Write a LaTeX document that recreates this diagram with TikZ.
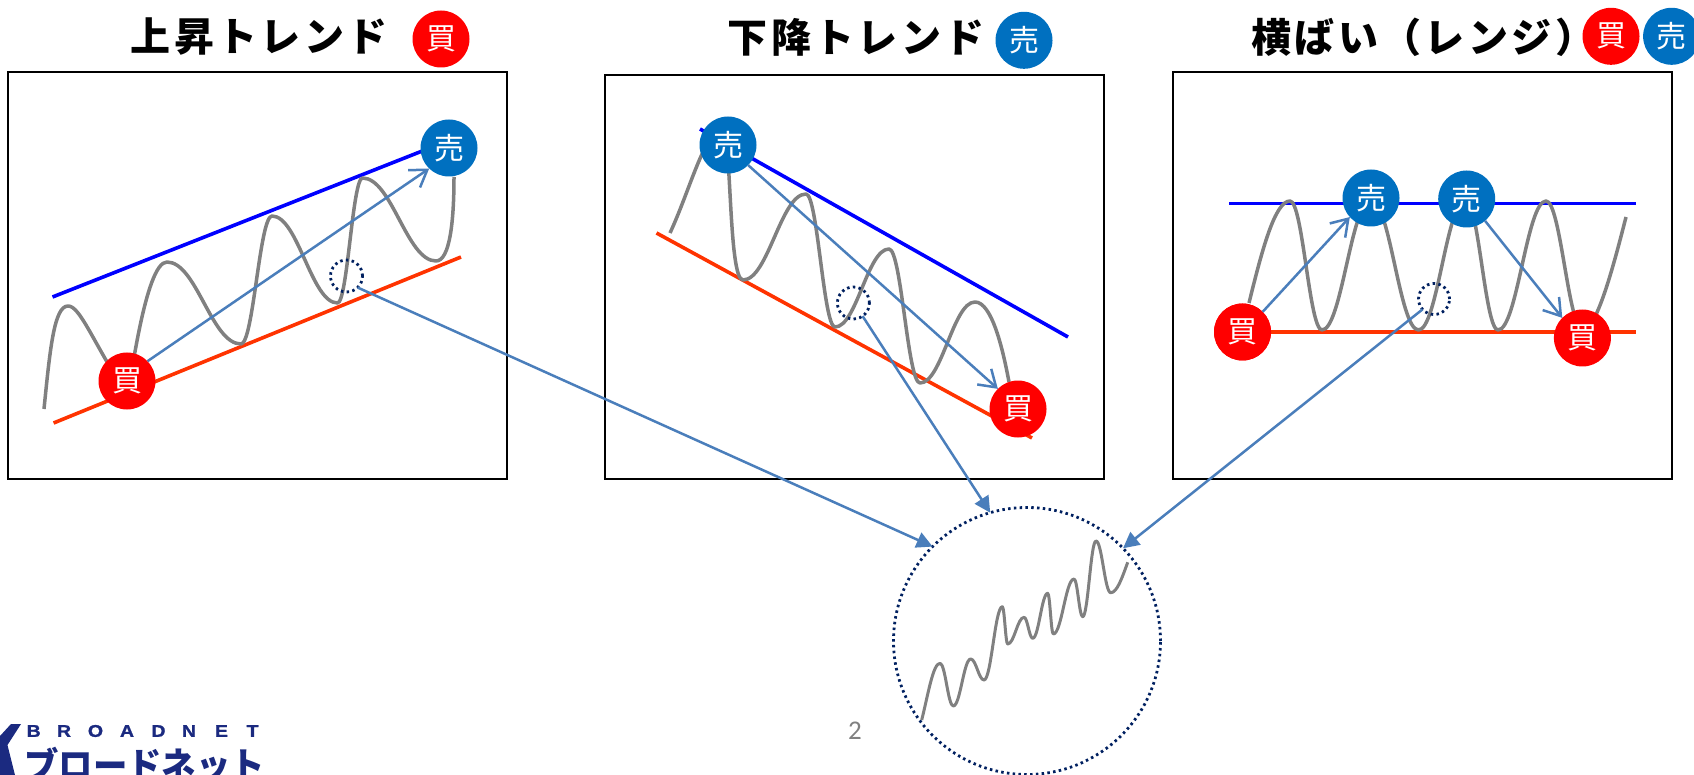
\documentclass[tikz,border=0pt]{standalone}
\usepackage{fontspec}
\usetikzlibrary{arrows.meta}
\newfontfamily\jpfont{Noto Sans CJK JP}
\newfontfamily\pagefont{Carlito}
\newfontfamily\logofont[FakeStretch=1.15,FakeBold=1.2]{Liberation Sans}
\definecolor{sellblue}{HTML}{0070C0}
\definecolor{buyred}{HTML}{FF0000}
\definecolor{lineorange}{HTML}{FF3300}
\definecolor{linkblue}{HTML}{4A7EBB}
\definecolor{dotnavy}{HTML}{002060}
\definecolor{curvegray}{HTML}{808080}
\definecolor{logonavy}{HTML}{1B2A80}
\newcommand\wavepts[3]{foreach \wx/\wy [remember=\wx as \wlx (initially #1), remember=\wy as \wly (initially #2)] in {#3} { .. controls ({\wlx+.4*(\wx-\wlx)},\wly) and ({\wx-.4*(\wx-\wlx)},\wy) .. (\wx,\wy) }}
\tikzset{
  panel/.style={draw=black,line width=2pt,fill=white},
  mark base/.style={circle,inner sep=0pt,outer sep=0pt,minimum size=57pt,text=white,font=\jpfont\fontsize{30}{30}\selectfont},
  sellmark/.style={mark base,fill=sellblue},
  buymark/.style={mark base,fill=buyred},
  titletext/.style={font=\jpfont\bfseries\fontsize{40}{40}\selectfont\addfontfeature{LetterSpace=8.5},text=black,inner sep=0pt,anchor=west},
  resist/.style={draw=blue,line width=3.6pt},
  support/.style={draw=lineorange,line width=3.6pt},
  curve/.style={draw=curvegray,line width=3.5pt,line join=round},
  thin curve/.style={draw=curvegray,line width=3pt,line join=round},
  trade/.style={draw=linkblue,line width=2.5pt,-{Straight Barb[length=16pt,width=21pt,line width=2.5pt]}},
  zoomlink/.style={draw=linkblue,line width=2.5pt,-{Triangle[length=16pt,width=16pt]}},
  dotring/.style={circle,draw=dotnavy,line width=2.8pt,dash pattern=on 2.5pt off 3.3pt,inner sep=0pt,outer sep=0pt},
}
\begin{document}
\begin{tikzpicture}[x=1pt,y=-1pt]
\useasboundingbox (0,0) rectangle (1694,775);
\clip (0,0) rectangle (1694,775);
% panels
\node[panel,minimum width=499pt,minimum height=406.5pt,inner sep=0pt] (box1) at (257.5,275.7) {};
\node[panel,minimum width=499pt,minimum height=404pt,inner sep=0pt] (box2) at (854.5,277) {};
\node[panel,minimum width=499.5pt,minimum height=406.5pt,inner sep=0pt] (box3) at (1422.3,275.7) {};
% titles
\node[titletext] (title1) at (130.5,37) {上昇トレンド};
\node[titletext] (title2) at (727.5,37) {下降トレンド};
\node[titletext] (title3) at (1251,37) {横ばい（レンジ）};
\node[buymark] (tbuy1) at (441,39) {買};
\node[sellmark] (tsell2) at (1024,40.3) {売};
\node[buymark] (tbuy3) at (1611,36.3) {買};
\node[sellmark] (tsell3) at (1671.6,36.3) {売};
% panel 1
\coordinate (r1a) at (52.5,297); \coordinate (r1b) at (440,144);
\coordinate (s1a) at (53.6,423); \coordinate (s1b) at (461,257);
\draw[resist] (r1a) -- (r1b);
\draw[support] (s1a) -- (s1b);
\draw[curve] (44,409) .. controls (50,350) and (54,306) .. (68,306) .. controls (80,306) and (92,340) .. (127,395) .. controls (130,390) and (145,262) .. (167,262) \wavepts{167}{262}{241/344,272/216,337.5/303,362.5/178,436/261} .. controls (450,261) and (454,220) .. (454,177);
\node[buymark] (buy1) at (127,381) {買};
\node[sellmark] (sell1) at (449,148) {売};
\draw[trade] (buy1.44) -- (sell1.226);
\node[dotring,minimum size=32pt] (ring1) at (346.5,276) {};
% panel 2
\coordinate (r2a) at (700,129); \coordinate (r2b) at (1068,337);
\coordinate (s2a) at (656.5,233); \coordinate (s2b) at (1032,438);
\draw[resist] (r2a) -- (r2b);
\draw[support] (s2a) -- (s2b);
\draw[curve] (670,233) .. controls (690,190) and (705,130) .. (722,130) .. controls (732,130) and (728,280) .. (743,280) \wavepts{743}{280}{806/194,835/327,889/249,920/383,975/302} .. controls (992,302) and (1003,350) .. (1009,382);
\node[sellmark] (sell2) at (728,145) {売};
\node[buymark] (buy2) at (1018,409) {買};
\draw[trade] (sell2.-45) -- (buy2.135);
\node[dotring,minimum size=32pt] (ring2) at (853.4,303) {};
% panel 3
\coordinate (r3a) at (1229,203.5); \coordinate (r3b) at (1636,203.5);
\coordinate (s3b) at (1636,332);
\draw[resist] (r3a) -- (r3b);
\node[buymark] (buy3a) at (1242.5,332) {買};
\draw[support] (buy3a) -- (s3b);
\draw[curve] (1249,303) .. controls (1262,250) and (1275,201) .. (1290,201) \wavepts{1290}{201}{1322/330,1371/200,1418.5/330,1465.6/200,1498/330,1546/201,1583/330} .. controls (1597,330) and (1615,260) .. (1626,217);
\node[buymark] (buy3a) at (1242.5,332) {買};
\node[sellmark] (sell3a) at (1371,198) {売};
\node[sellmark] (sell3b) at (1466.7,199) {売};
\node[buymark] (buy3b) at (1582.4,338) {買};
\draw[trade] (buy3a.45) -- (sell3a.222);
\draw[trade] (sell3b.-50) -- (buy3b.135);
\node[dotring,minimum size=31pt] (ring3) at (1434,299) {};
% magnified circle
\node[dotring,minimum size=267pt] (bigring) at (1027,641) {};
\draw[thin curve] (921.7,720) .. controls (928,695) and (933,663.3) .. (940,663.3) \wavepts{940}{663.3}{953.3/706,970.7/659,984/680,1002.3/606.7,1007.7/644,1024/617.3,1032.7/638.3,1047.7/593.3,1053.3/634,1074/579,1082.7/616.7,1096/541,1110.7/592.7} .. controls (1117,592.7) and (1122,578) .. (1127.7,562.3);
% zoom connectors
\draw[zoomlink] (ring1.-46) -- (bigring.135);
\draw[zoomlink] (ring2.-55) -- (bigring.106.4);
\draw[zoomlink] (ring3.222) -- (bigring.44.7);
% page number
\node[text=curvegray,font=\pagefont\fontsize{27}{27}\selectfont,inner sep=0pt] (pageno) at (855,731) {2};
% logo
\fill[logonavy] (11,724) -- (21,724) -- (7.5,745) -- (15,775) -- (0,775) -- (0,736) -- cycle;
\foreach \ch/\px [count=\i] in {B/33.7,R/64,O/95.5,A/127,D/158.5,N/189,E/221.5,T/252.5}{
  \node[text=logonavy,font=\logofont\bfseries\fontsize{17}{17}\selectfont,inner sep=0pt] (logo\i) at (\px,731) {\ch};
}
\node[text=logonavy,font=\jpfont\bfseries\fontsize{37}{37}\selectfont,inner sep=0pt,anchor=west,xscale=.93] (logojp) at (24,765) {ブロードネット};
\end{tikzpicture}
\end{document}
